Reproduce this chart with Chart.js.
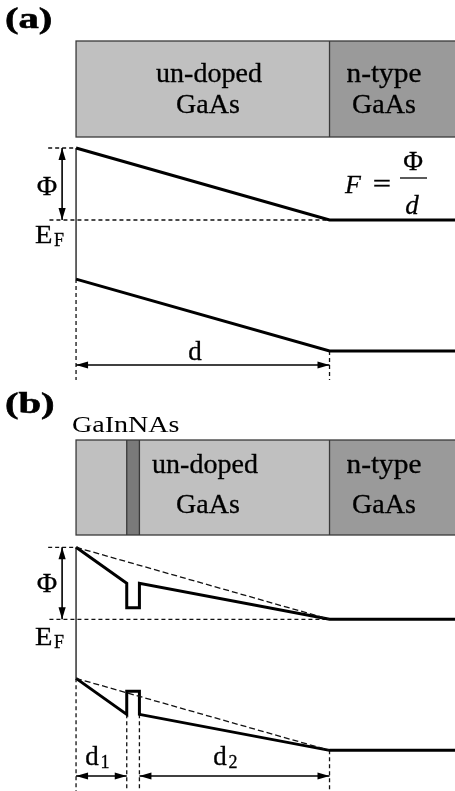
<!DOCTYPE html>
<html>
<head>
<meta charset="utf-8">
<script src="https://cdn.jsdelivr.net/npm/chart.js@4.4.0/dist/chart.umd.min.js"></script>
<style>
    body { margin: 0; background: #fff; width: 455px; height: 791px; overflow: hidden; position: relative; }
    canvas { position: absolute; left: 0; }
    #chartA { top: 0; }
    #chartB { top: 390px; }
</style>
</head>
<body>
<canvas id="chartA" width="455" height="380"></canvas>
<canvas id="chartB" width="455" height="401"></canvas>
<script>
/* Data: depth in nm, energy in eV relative to E_F */

const phi = 0.78

const depthA = [0, 100, 150]
const cbA = [0.78, 0, 0]
const vbA = [-0.64, -1.42, -1.42]

const depthB = [0, 20, 20, 25, 25, 100, 150]
const cbB = [0.78, 0.39, 0.125, 0.125, 0.39, 0, 0]
const vbB = [-0.64, -1.03, -0.78, -0.78, -1.03, -1.42, -1.42]

const layerEdgesA = [0, 100, 150]
const layerNamesA = ['un-doped GaAs', 'n-type GaAs']
const layerEdgesB = [0, 20, 25, 100, 150]
const layerNamesB = ['GaAs', 'GaInNAs', 'un-doped GaAs', 'n-type GaAs']

/* Helpers */

const PX_PER_EV = 92.3
const serif = '"Liberation Serif", "Times New Roman", serif'

const pts = (xs, ys) => xs.map((x, i) => ({x, y: ys[i]}))
const seg = (x1, y1, x2, y2) => [{x: x1, y: y1}, {x: x2, y: y2}]

const band = (data) => ({data, borderColor: '#000', borderWidth: 3, borderJoinStyle: 'miter'})
const thin = (data) => ({data, borderColor: '#000', borderWidth: 1.2})
const dashed = (data, dash) => ({data, borderColor: '#111', borderWidth: 1.3, borderDash: dash || [4, 3]})

const layerColor = {
    'GaAs': '#c0c0c0',
    'un-doped GaAs': '#c0c0c0',
    'GaInNAs': '#7a7a7a',
    'n-type GaAs': '#9a9a9a'
}

function drawArrow(ctx, x1, y1, x2, y2) {
    const head = 12, half = 3.6
    const ang = Math.atan2(y2 - y1, x2 - x1)
    ctx.save()
    ctx.strokeStyle = '#000'
    ctx.fillStyle = '#000'
    ctx.lineWidth = 1.6
    ctx.beginPath()
    ctx.moveTo(x1, y1)
    ctx.lineTo(x2, y2)
    ctx.stroke()
    ;[[x1, y1, ang + Math.PI], [x2, y2, ang]].forEach(([x, y, a]) => {
        ctx.beginPath()
        ctx.moveTo(x, y)
        ctx.lineTo(x - head * Math.cos(a) + half * Math.sin(a), y - head * Math.sin(a) - half * Math.cos(a))
        ctx.lineTo(x - head * Math.cos(a) - half * Math.sin(a), y - head * Math.sin(a) + half * Math.cos(a))
        ctx.closePath()
        ctx.fill()
    })
    ctx.restore()
}

function drawText(ctx, t) {
    const weight = t.weight === undefined ? 0.3 : t.weight
    ctx.save()
    ctx.font = t.font
    ctx.fillStyle = '#000'
    ctx.strokeStyle = '#000'
    ctx.textAlign = t.align || 'center'
    ctx.textBaseline = 'alphabetic'
    ctx.translate(t.x, t.y)
    ctx.scale(t.sx || 1, 1)
    ctx.fillText(t.text, 0, 0)
    if (weight > 0) {
        ctx.lineWidth = weight
        ctx.strokeText(t.text, 0, 0)
    }
    ctx.restore()
}

const diagram = {
    id: 'diagram',
    afterDraw(chart, args, opts) {
        const ctx = chart.ctx
        const xs = chart.scales.x, ys = chart.scales.y

        // layer strip
        const s = opts.strip
        const edges = s.edges.map(v => Math.min(xs.getPixelForValue(v), chart.width + 2))
        ctx.save()
        s.names.forEach((name, i) => {
            ctx.fillStyle = layerColor[name]
            ctx.fillRect(edges[i], s.top, edges[i + 1] - edges[i], s.bottom - s.top)
        })
        ctx.strokeStyle = '#3a3a3a'
        ctx.lineWidth = 1.3
        ctx.strokeRect(edges[0], s.top, edges[edges.length - 1] - edges[0], s.bottom - s.top)
        edges.slice(1, -1).forEach(x => {
            ctx.beginPath()
            ctx.moveTo(x, s.top)
            ctx.lineTo(x, s.bottom)
            ctx.stroke()
        })
        ctx.restore()

        // arrows
        opts.arrows.forEach(a => {
            if (a.vertical) {
                const x = xs.getPixelForValue(a.x)
                drawArrow(ctx, x, ys.getPixelForValue(a.y1), x, ys.getPixelForValue(a.y2))
            } else {
                drawArrow(ctx, xs.getPixelForValue(a.x1), a.py, xs.getPixelForValue(a.x2), a.py)
            }
        })

        // labels
        opts.texts.forEach(t => drawText(ctx, t))
        ;(opts.rules || []).forEach(r => {
            ctx.save()
            ctx.strokeStyle = '#000'
            ctx.lineWidth = 1.3
            ctx.beginPath()
            ctx.moveTo(r[0], r[1])
            ctx.lineTo(r[2], r[1])
            ctx.stroke()
            ctx.restore()
        })
    }
}

function makeChart(id, datasets, fermiPx, height, diagramOpts) {
    const yMax = fermiPx / PX_PER_EV
    return new Chart(document.getElementById(id), {
        type: 'scatter',
        data: {datasets: datasets.map(d => Object.assign({showLine: true, pointRadius: 0, tension: 0, fill: false}, d))},
        options: {
            responsive: false,
            animation: false,
            devicePixelRatio: 1,
            layout: {padding: 0},
            events: [],
            scales: {
                x: {type: 'linear', min: -30, max: 149.5, display: false},
                y: {type: 'linear', min: yMax - height / PX_PER_EV, max: yMax, display: false}
            },
            plugins: {
                legend: {display: false},
                tooltip: {enabled: false},
                diagram: diagramOpts
            }
        },
        plugins: [diagram]
    })
}

const big = '28px ' + serif
const bold = 'bold 29px ' + serif

/* Panel (a) */

makeChart('chartA', [
    band(pts(depthA, cbA)),
    band(pts(depthA, vbA)),
    dashed(seg(-10.5, 0, depthA[1], 0)),
    dashed(seg(-11, phi, 0, phi)),
    thin(seg(0, cbA[0], 0, vbA[0])),
    dashed(seg(0, vbA[0], 0, -3)),
    dashed(seg(depthA[1], vbA[1], depthA[1], -3))
], 220, 380, {
    strip: {edges: layerEdgesA, names: layerNamesA, top: 41, bottom: 137},
    arrows: [
        {vertical: true, x: -5.5, y1: phi, y2: 0},
        {x1: 0, x2: depthA[1], py: 365}
    ],
    texts: [
        {text: '(a)', x: 5, y: 28, font: bold, align: 'left', sx: 1.4, weight: 0.6},
        {text: 'un-doped', x: 209, y: 82, font: big},
        {text: 'GaAs', x: 208, y: 113, font: big},
        {text: 'n-type', x: 384, y: 82, font: big, sx: 1.05},
        {text: 'GaAs', x: 384, y: 113, font: big},
        {text: '\u03A6', x: 47, y: 195, font: '28px ' + serif},
        {text: 'E', x: 35, y: 243, font: '26px ' + serif, align: 'left', sx: 1.1},
        {text: 'F', x: 54, y: 246, font: '18px ' + serif, align: 'left'},
        {text: 'd', x: 195, y: 360, font: '27px ' + serif},
        {text: 'F', x: 353, y: 193, font: 'italic 26px ' + serif},
        {text: '=', x: 382, y: 192, font: '26px ' + serif, sx: 1.25},
        {text: '\u03A6', x: 413, y: 170, font: '27px ' + serif},
        {text: 'd', x: 412, y: 214, font: 'italic 27px ' + serif}
    ],
    rules: [[400, 178, 427]]
})

/* Panel (b) */

makeChart('chartB', [
    dashed(seg(depthB[0], cbB[0], depthB[5], cbB[5]), [6, 3]),
    dashed(seg(depthB[0], vbB[0], depthB[5], vbB[5]), [6, 3]),
    band(pts(depthB, cbB)),
    band(pts(depthB, vbB)),
    dashed(seg(-10.5, 0, depthB[5], 0)),
    dashed(seg(-11, phi, 0, phi)),
    thin(seg(0, cbB[0], 0, vbB[0])),
    dashed(seg(0, vbB[0], 0, -3)),
    dashed(seg(depthB[1], vbB[1], depthB[1], -3)),
    dashed(seg(depthB[3], vbB[3] - 0.25, depthB[3], -3)),
    dashed(seg(depthB[5], vbB[5], depthB[5], -3))
], 229.3, 401, {
    strip: {edges: layerEdgesB, names: layerNamesB, top: 50, bottom: 145},
    arrows: [
        {vertical: true, x: -5.5, y1: phi, y2: 0},
        {x1: 0, x2: depthB[1], py: 386},
        {x1: depthB[3], x2: depthB[5], py: 386}
    ],
    texts: [
        {text: '(b)', x: 5, y: 23, font: bold, align: 'left', sx: 1.4, weight: 0.6},
        {text: 'GaInNAs', x: 72, y: 42, font: '23px ' + serif, align: 'left', sx: 1.22, weight: 0},
        {text: 'un-doped', x: 205, y: 83, font: big},
        {text: 'GaAs', x: 208, y: 123, font: big},
        {text: 'n-type', x: 384, y: 83, font: big, sx: 1.05},
        {text: 'GaAs', x: 384, y: 123, font: big},
        {text: '\u03A6', x: 47, y: 202, font: '28px ' + serif},
        {text: 'E', x: 35, y: 255, font: '26px ' + serif, align: 'left', sx: 1.1},
        {text: 'F', x: 54, y: 258, font: '18px ' + serif, align: 'left'},
        {text: 'd', x: 92, y: 375, font: '27px ' + serif},
        {text: '1', x: 105, y: 378, font: '18px ' + serif},
        {text: 'd', x: 220, y: 375, font: '27px ' + serif},
        {text: '2', x: 233, y: 378, font: '18px ' + serif}
    ]
})
</script>
</body>
</html>
